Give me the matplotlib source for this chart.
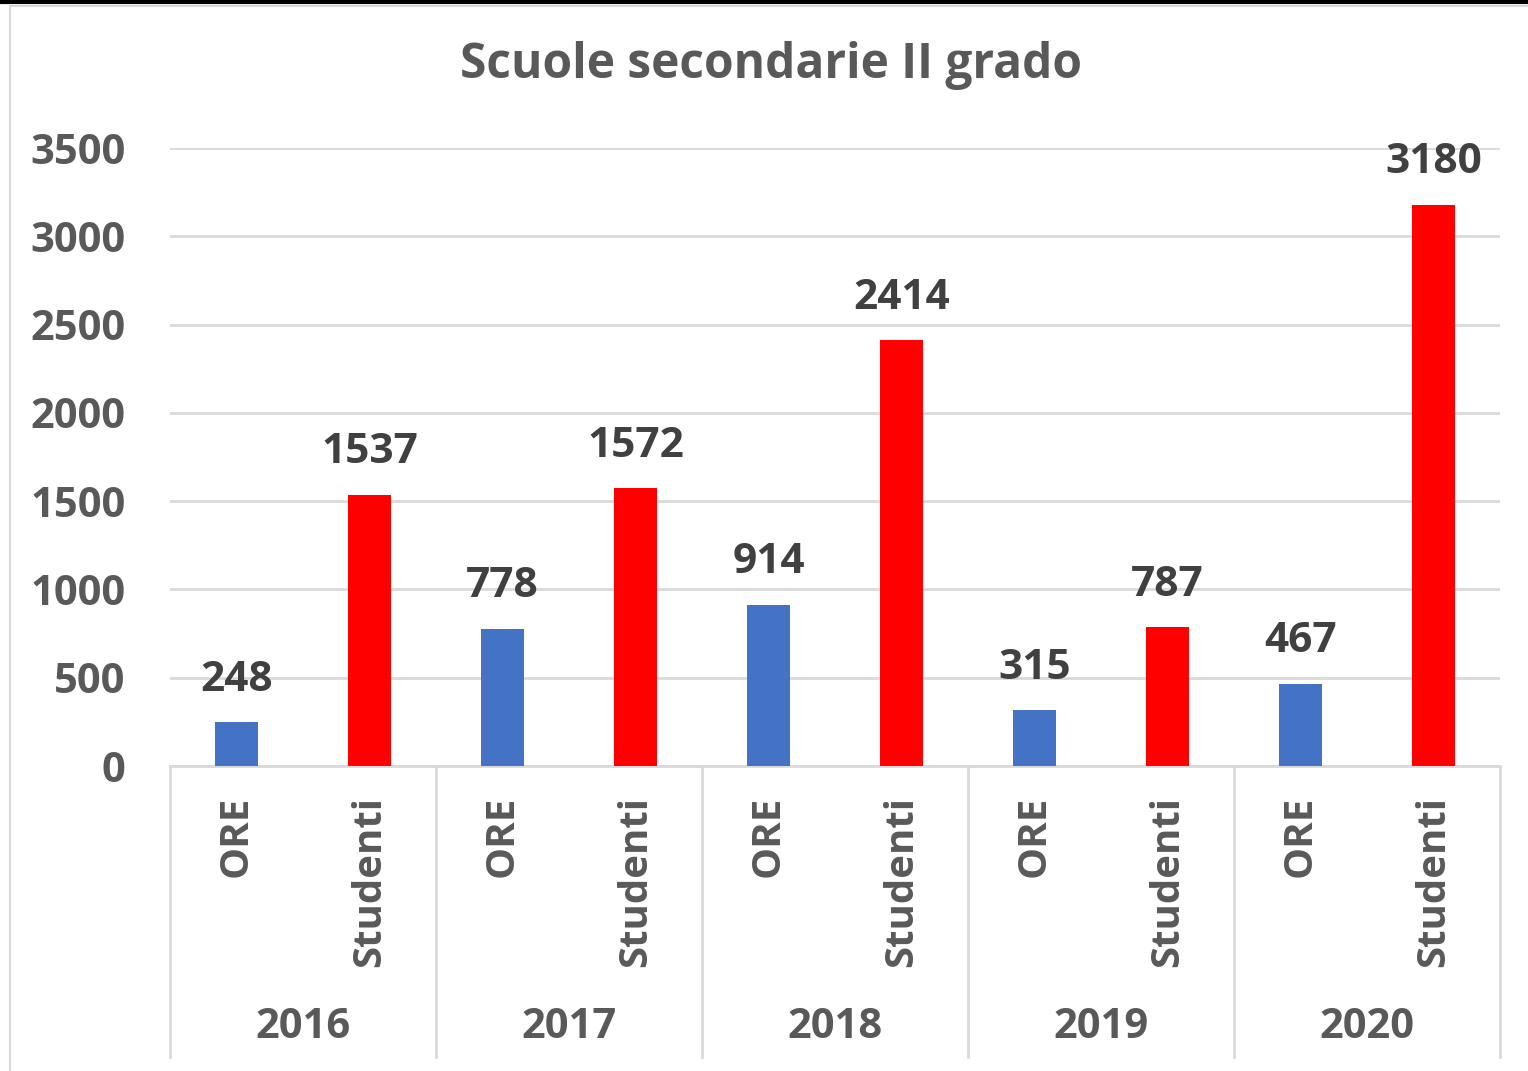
import matplotlib
matplotlib.use("Agg")
import matplotlib.pyplot as plt
from matplotlib.lines import Line2D
from matplotlib.transforms import blended_transform_factory

plt.rcParams['font.family'] = ['Open Sans', 'DejaVu Sans']
plt.rcParams['font.weight'] = 'bold'

# dati
anni = ['2016', '2017', '2018', '2019', '2020']
serie = ['ORE', 'Studenti']
ore = [248, 778, 914, 315, 467]
studenti = [1537, 1572, 2414, 787, 3180]
yticks = [0, 500, 1000, 1500, 2000, 2500, 3000, 3500]

BLU = '#4472C4'
ROSSO = '#FF0000'
GRIGIO_TESTO = '#595959'
GRIGIO_ETICH = '#404040'
GRIGIO_LINEE = '#D9D9D9'

W, H = 1528, 1071
fig = plt.figure(figsize=(W / 100, H / 100), dpi=100)

# cornice del grafico (bordo nero in alto + bordo grigio)
fig.add_artist(Line2D([0, 1], [1 - 2 / H, 1 - 2 / H], color='black', lw=3))
fig.add_artist(Line2D([9.5 / W, 9.5 / W], [0, 1 - 6 / H], color=GRIGIO_LINEE, lw=1.5))
fig.add_artist(Line2D([9.5 / W, 1], [1 - 6 / H, 1 - 6 / H], color=GRIGIO_LINEE, lw=1.5))

x0, x1, ytop, ybot = 170, 1500, 148, 766
ax = fig.add_axes([x0 / W, (H - ybot) / H, (x1 - x0) / W, (ybot - ytop) / H])

n = len(anni) * 2
pos_ore = [2 * i for i in range(len(anni))]
pos_stu = [2 * i + 1 for i in range(len(anni))]
larg = 0.33
ax.bar(pos_ore, ore, width=larg, color=BLU, zorder=3)
ax.bar(pos_stu, studenti, width=larg, color=ROSSO, zorder=3)

for xs, vals in ((pos_ore, ore), (pos_stu, studenti)):
    for x, v in zip(xs, vals):
        ax.annotate(str(v), (x, v), xytext=(0, 30), textcoords='offset points',
                    ha='center', va='center', fontsize=30.5, color=GRIGIO_ETICH,
                    fontweight='bold')

ax.set_xlim(-0.5, n - 0.5)
ax.set_ylim(0, 3500)
ax.set_yticks(yticks)
ax.tick_params(axis='y', length=0, pad=32, labelsize=30, labelcolor=GRIGIO_TESTO)
ax.set_xticks([])
ax.grid(axis='y', color=GRIGIO_LINEE, lw=2, zorder=0)
for s in ('top', 'right', 'left'):
    ax.spines[s].set_visible(False)
ax.spines['bottom'].set_color(GRIGIO_LINEE)
ax.spines['bottom'].set_linewidth(2)

# asse delle categorie su due livelli
tr = blended_transform_factory(ax.transData, ax.transAxes)
h_ax = ybot - ytop
for i in range(len(anni) + 1):
    ax.plot([2 * i - 0.5] * 2, [0, -(1057 - ybot) / h_ax], transform=tr,
            color=GRIGIO_LINEE, lw=2, clip_on=False)
for i, anno in enumerate(anni):
    for j, nome in enumerate(serie):
        ax.text(2 * i + j, -(796 - ybot) / h_ax, nome, transform=tr, rotation=90,
                ha='center', va='top', fontsize=29, color=GRIGIO_TESTO,
                fontweight='bold')
    ax.text(2 * i + 0.5, -(1027 - ybot) / h_ax, anno, transform=tr,
            ha='center', va='center', fontsize=30, color=GRIGIO_TESTO,
            fontweight='bold')

fig.text(771 / W, 1 - 66 / H, 'Scuole secondarie II grado', ha='center',
         va='center', fontsize=34.5, color=GRIGIO_TESTO, fontweight='bold')

fig.savefig('out.png', dpi=100, facecolor='white')
